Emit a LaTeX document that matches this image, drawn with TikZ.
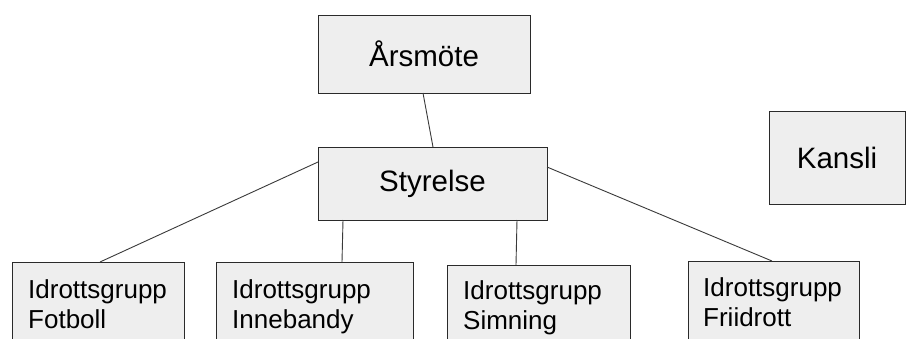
\documentclass[tikz,border=0pt]{standalone}
\usepackage{fontspec}
\setmainfont{Liberation Sans}
\usetikzlibrary{calc}
\definecolor{boxfill}{HTML}{EEEEEE}
\definecolor{boxline}{HTML}{2A2A2A}
\definecolor{linkline}{HTML}{3A3A3A}
\begin{document}
\begin{tikzpicture}[x=1pt,y=-1pt,
  bigbox/.style={draw=boxline,fill=boxfill,line width=1pt,inner sep=0pt,outer sep=0pt,anchor=north west,
    font=\fontsize{29.5}{35}\selectfont},
  groupbox/.style={draw=boxline,fill=boxfill,line width=1pt,inner sep=0pt,outer sep=0pt,anchor=north west,
    minimum height=95pt},
  grouptext/.style={anchor=north west,inner sep=0pt,align=left,font=\fontsize{26}{30}\selectfont},
  link/.style={draw=linkline,line width=0.9pt}]
\clip (0,0) rectangle (906,338);
\fill[white] (0,0) rectangle (906,338);
% top boxes
\node[bigbox,minimum width=212pt,minimum height=78pt] (ars) at (318,15) {Årsmöte};
\node[bigbox,minimum width=229pt,minimum height=73pt] (sty) at (318,147) {Styrelse};
\node[bigbox,minimum width=136pt,minimum height=93pt] (kan) at (769,111) {Kansli};
% group boxes
\node[groupbox,minimum width=172pt] (fot) at (12,262) {};
\node[groupbox,minimum width=197pt] (inn) at (216,262) {};
\node[groupbox,minimum width=183pt] (sim) at (447,265) {};
\node[groupbox,minimum width=171pt] (fri) at (688,261) {};
\node[grouptext] (fott) at ($(fot.north west)+(16,17)$) {Idrottsgrupp\\Fotboll};
\node[grouptext] (innt) at ($(inn.north west)+(16,17)$) {Idrottsgrupp\\Innebandy};
\node[grouptext] (simt) at ($(sim.north west)+(16,15)$) {Idrottsgrupp\\Simning};
\node[grouptext] (frit) at ($(fri.north west)+(15,16)$) {Idrottsgrupp\\Friidrott};
% connectors
\draw[link] ($(ars.south west)+(105,0)$) -- ($(sty.north west)+(115,0)$);
\draw[link] ($(fot.north west)+(88,0)$) -- ($(sty.north west)+(0,15)$);
\draw[link] ($(inn.north west)+(126,0)$) -- ($(sty.south west)+(25,0)$);
\draw[link] ($(sim.north west)+(69,0)$) -- ($(sty.south west)+(199,0)$);
\draw[link] ($(fri.north west)+(84,0)$) -- ($(sty.north east)+(0,20)$);
\end{tikzpicture}
\end{document}
